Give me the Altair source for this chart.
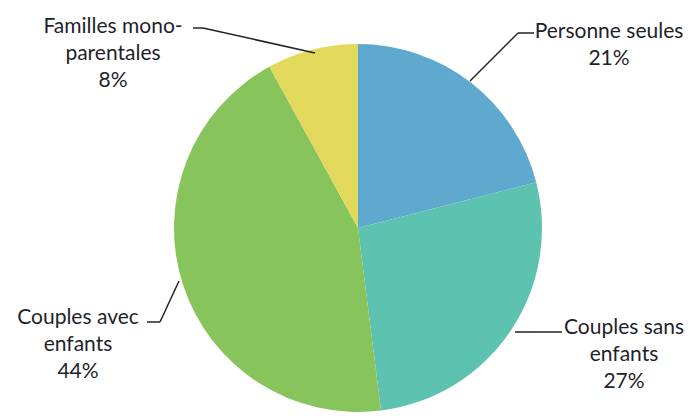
import altair as alt
import pandas as pd

# Data
categories = ["Personne seules", "Couples sans enfants", "Couples avec enfants", "Familles monoparentales"]
shares = [21, 27, 44, 8]
colors = ["#5fa9cf", "#5dc3b0", "#87c45b", "#e2d85c"]
label_texts = ["Personne seules\n21%", "Couples sans\nenfants\n27%", "Couples avec\nenfants\n44%", "Familles mono-\nparentales\n8%"]

# Layout (pixel annotation positions inside the plot area)
CX, CY, R = 350, 220, 184
label_x = [601, 616, 70, 105]
label_y = [13, 309, 299, 8]
leader_pts = [
    [(526, 25), (510, 25), (462, 73)],
    [(554, 324), (507, 324)],
    [(139, 314), (152, 314), (171, 273)],
    [(185, 20), (195, 20), (307, 45)],
]

pie_df = pd.DataFrame({"cat": categories, "share": shares, "order": list(range(len(categories)))})
lab_df = pd.DataFrame({"text": label_texts, "x": label_x, "y": label_y})
seg_rows = []
for pts in leader_pts:
    for a, b in zip(pts[:-1], pts[1:]):
        seg_rows.append({"x": a[0], "y": a[1], "x2": b[0], "y2": b[1]})
seg_df = pd.DataFrame(seg_rows)

shadow = alt.Chart(pd.DataFrame({"v": [1]})).mark_arc(
    radius=R, color="#3d4f3a"
).encode(theta=alt.Theta("v:Q"), x=alt.value(CX), y=alt.value(CY + 3))

pie = alt.Chart(pie_df).mark_arc(radius=R).encode(
    theta=alt.Theta("share:Q", stack=True),
    order=alt.Order("order:O"),
    color=alt.Color("cat:N", scale=alt.Scale(domain=categories, range=colors), legend=None),
    x=alt.value(CX),
    y=alt.value(CY),
)

leaders = alt.Chart(seg_df).mark_rule(color="#222222", strokeWidth=1.5).encode(
    x=alt.X("x:Q", scale=None), y=alt.Y("y:Q", scale=None),
    x2="x2:Q", y2="y2:Q",
)

labels = alt.Chart(lab_df).mark_text(
    font="Lato", fontSize=21, color="#1f1f2a", align="center", baseline="top",
    lineBreak="\n", lineHeight=27,
).encode(x=alt.X("x:Q", scale=None), y=alt.Y("y:Q", scale=None), text="text:N")

chart = alt.layer(shadow, pie, leaders, labels).properties(
    width=678, height=408, padding=0, autosize=alt.AutoSizeParams(type="none")
).configure_view(stroke=None)

chart.save("out.html", embed_options={"renderer": "svg", "actions": False})
